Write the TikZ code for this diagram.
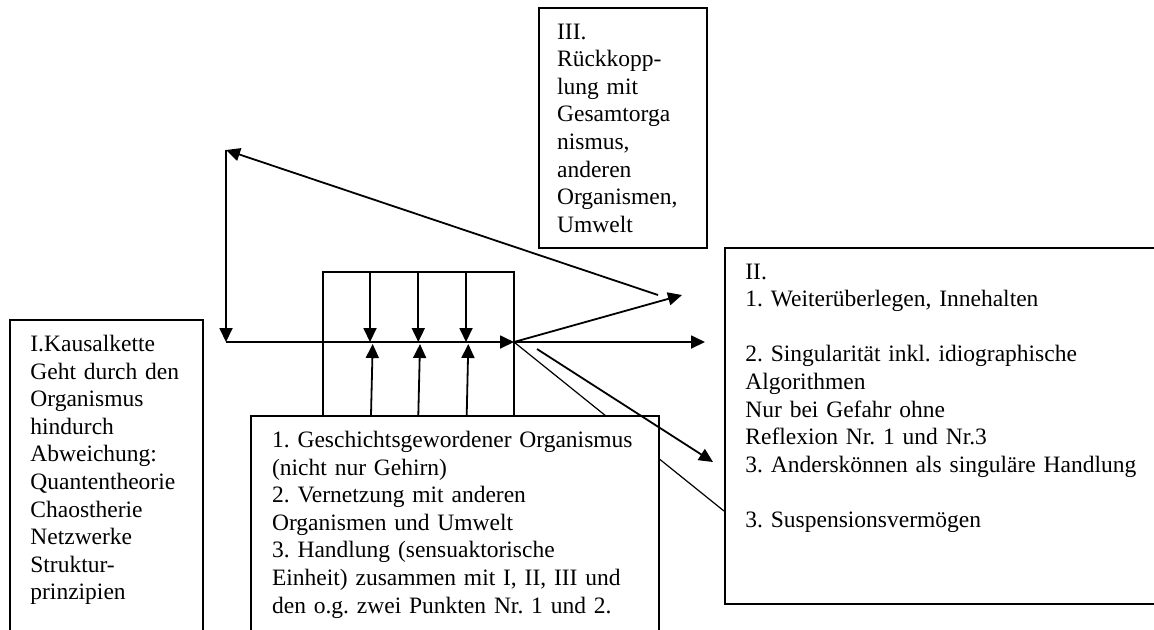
\documentclass[tikz,border=0pt]{standalone}
\usepackage{fontspec}
\setmainfont{Liberation Serif}
\usetikzlibrary{arrows.meta}
\frenchspacing
\begin{document}
\begin{tikzpicture}[x=0.5pt,y=-0.5pt,
  frame/.style={draw, line width=0.9pt, inner sep=0pt, anchor=north west},
  txt/.style={inner sep=0pt, anchor=base west, align=left, font=\fontsize{11.75pt}{13.8pt}\selectfont\frenchspacing},
  arr/.style={line width=0.9pt, -{Triangle[length=7pt,width=6.5pt]}},
  plain/.style={line width=0.6pt}]
\useasboundingbox (0,0) rectangle (1154,629);
\clip (0,0) rectangle (1154,629);
% frames
\node[frame, minimum width=96.5pt, minimum height=200pt] (kI) at (9,319) {};
\node[frame, minimum width=230pt, minimum height=178pt] (kII) at (724,247) {};
\node[frame, minimum width=84pt, minimum height=120pt] (kIII) at (538,7) {};
\node[frame, minimum width=95.5pt, minimum height=72pt] (org) at (322,271) {};
% coordinates
\coordinate (hub) at (514,342);
\coordinate (corner) at (226,150);
\coordinate (loopstart) at (226,342);
\coordinate (fb) at (658,295);
\coordinate (ur) at (682,295);
\coordinate (rt) at (705,342);
\coordinate (ds) at (537,349);
\coordinate (dt) at (713,462);
\coordinate (lb) at (724,511);
% thin line behind bottom box
\draw[plain] (hub) -- (lb);
% bottom box
\node[frame, fill=white, minimum width=204pt, minimum height=150pt] (kO) at (250,415) {};
% arrows
\draw[arr] (corner) -- (loopstart);
\draw[arr] (loopstart) -- (hub);
\draw[arr] (fb) -- (corner);
\draw[arr] (hub) -- (ur);
\draw[arr] (hub) -- (rt);
\draw[arr] (ds) -- (dt);
\foreach \i/\xa/\xb/\xc in {1/370/371/372.7, 2/418.3/418.3/420, 3/466/466.7/468.3} {
  \coordinate (top\i) at (\xa,271);
  \coordinate (mid\i) at (\xa,342);
  \coordinate (bot\i) at (\xb,415);
  \coordinate (up\i) at (\xc,344);
  \draw[arr] (top\i) -- (mid\i);
  \draw[arr] (bot\i) -- (up\i);
}
% texts
\node[txt, text width=85pt] (tI) at (30,351.5) {I.Kausalkette\\Geht durch den\\Organismus\\hindurch\\Abweichung:\\Quantentheorie\\Chaostherie\\Netzwerke\\Struktur-\\prinzipien};
\node[txt, text width=75pt] (tIII) at (556.7,39) {III.\\Rückkopp-\\lung mit\\Gesamtorga\\nismus,\\anderen\\Organismen,\\Umwelt};
\node[txt, text width=230pt] (tII) at (745,279) {II.\\1. Weiterüberlegen, Innehalten\\[13.8pt]2. Singularität inkl. idiographische\\Algorithmen\\Nur bei Gefahr ohne\\Reflexion Nr. 1 und Nr.3\\3. Anderskönnen als singuläre Handlung\\[13.8pt]3. Suspensionsvermögen};
\node[txt, text width=200pt] (tO) at (271.7,447.5) {1. Geschichtsgewordener Organismus\\(nicht nur Gehirn)\\2. Vernetzung mit anderen\\Organismen und Umwelt\\3. Handlung (sensuaktorische\\Einheit) zusammen mit I, II, III und\\den o.g. zwei Punkten Nr. 1 und 2.};
\end{tikzpicture}
\end{document}
